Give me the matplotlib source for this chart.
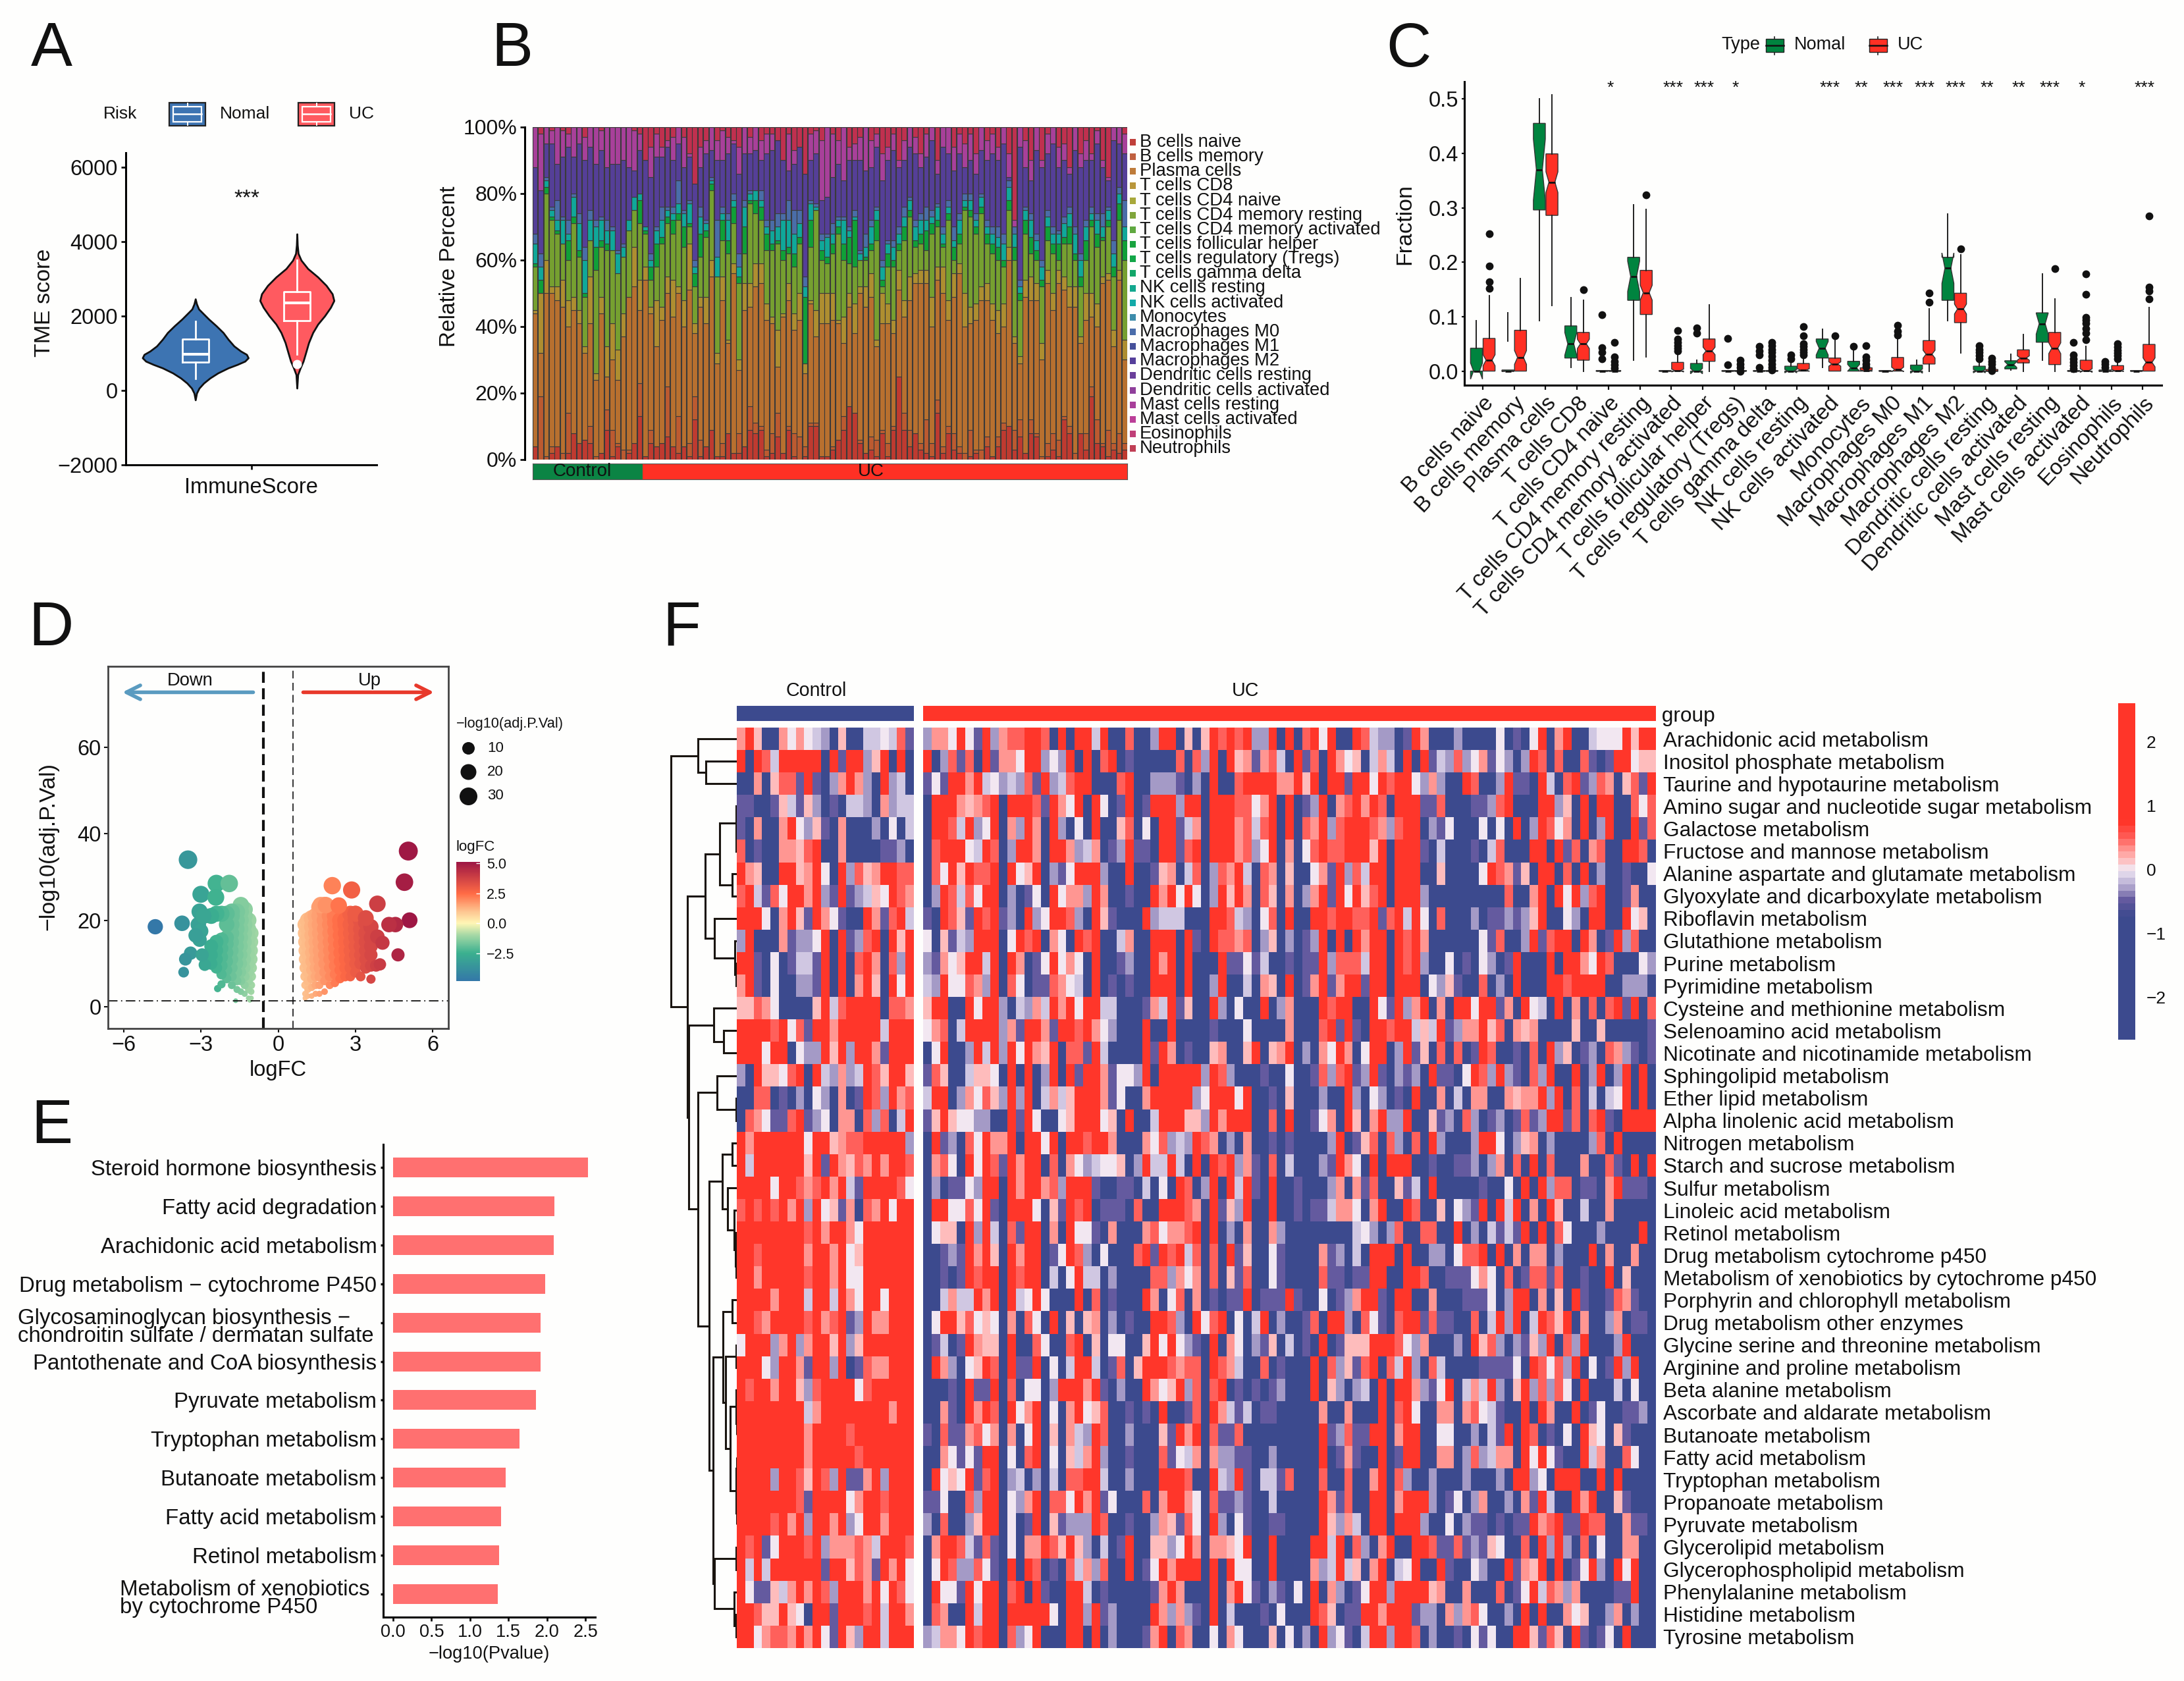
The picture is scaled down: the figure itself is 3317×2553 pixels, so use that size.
import matplotlib
matplotlib.use("Agg")
import matplotlib.pyplot as plt
import numpy as np
from matplotlib.colors import LinearSegmentedColormap, Normalize
from matplotlib.patches import Rectangle

W, H = 3317, 2553
plt.rcParams['font.family'] = ['Liberation Sans', 'DejaVu Sans']
plt.rcParams['text.color'] = '#111111'
plt.rcParams['axes.labelcolor'] = '#111111'
plt.rcParams['xtick.color'] = '#111111'
plt.rcParams['ytick.color'] = '#111111'
BG = '#FEFEFD'

# --- panel A ---
NOMAL_VIOLIN_Y = [2452, 2317, 2181, 2045, 1910, 1729, 1548, 1367, 1186, 1050, 960, 869, 778, 688, 597, 462, 326, 190, 54, -81, -262]
NOMAL_VIOLIN_W = [0, .006, .016, .04, .064, .1, .133, .157, .185, .217, .245, .253, .237, .2, .157, .108, .07, .04, .018, .006, 0]
UC_VIOLIN_Y = [4199, 3900, 3674, 3493, 3267, 3041, 2815, 2588, 2407, 2226, 1999, 1774, 1548, 1276, 1005, 778, 597, 416, 54]
UC_VIOLIN_W = [0, .002, .006, .02, .052, .1, .14, .169, .177, .161, .133, .1, .076, .056, .042, .03, .016, .004, 0]
NOMAL_BOX = dict(q1=751, med=959, q3=1367, whislo=308, whishi=1846, fliers=[])
UC_BOX = dict(q1=1864, med=2344, q3=2652, whislo=959, whishi=3493, fliers=[706])

# --- panel B ---
CELL_TYPES = ['B cells naive', 'B cells memory', 'Plasma cells', 'T cells CD8', 'T cells CD4 naive',
              'T cells CD4 memory resting', 'T cells CD4 memory activated', 'T cells follicular helper',
              'T cells regulatory (Tregs)', 'T cells gamma delta', 'NK cells resting', 'NK cells activated',
              'Monocytes', 'Macrophages M0', 'Macrophages M1', 'Macrophages M2', 'Dendritic cells resting',
              'Dendritic cells activated', 'Mast cells resting', 'Mast cells activated', 'Eosinophils', 'Neutrophils']
CELL_COLORS = ['#C0403A', '#C06040', '#BE7B3A', '#B8963A', '#A8A83A', '#7FA53A', '#5FA83F', '#18A33F', '#12A647',
               '#12A668', '#12A88E', '#12AAA8', '#3D8CAA', '#4A6DAA', '#45509A', '#553F9A', '#6A3F9A', '#8F3F9A',
               '#A83F9A', '#BB3F98', '#C03F78', '#C03F55']
N_CONTROL_B = 20
N_UC_B = 88
TOP_NAIVE = [4, 0, 0, 2, 4, 0, 2, 8, 5, 6, 5, 0, 2, 9, 1, 4, 0, 2, 5, 13,
             1, 5, 4, 5, 7, 4, 2, 4, 1, 12, 1, 4, 9, 1, 1, 8, 2, 2, 4, 9,
             8, 9, 1, 2, 7, 2, 9, 1, 0, 1, 10, 10, 1, 1, 3, 6, 9, 16, 14, 5,
             2, 3, 1, 8, 1, 9, 25, 9,
             4, 8, 3, 2, 1, 14, 2, 8, 3, 2, 0, 1, 2, 0, 4, 1, 4, 9, 10, 3, 7, 2, 8, 7, 0, 1, 3, 1, 12, 8, 0, 8, 3, 19, 5, 4, 1, 3, 2, 3, 1, 11]
TOP_BMEM = [4, 19, 1, 4, 4, 2, 14, 8, 5, 6, 10, 1, 2, 15, 9, 5, 3, 3, 5, 23,
            1, 9, 4, 5, 22, 4, 13, 4, 5, 19, 6, 1, 9, 1, 5, 8, 2, 8, 4, 16,
            11, 10, 3, 8, 14, 2, 10, 8, 7, 4, 11, 11, 1, 1, 4, 6, 13, 16, 14, 6,
            2, 7, 6, 9, 5, 10, 25, 14,
            9, 8, 5, 12, 5, 18, 4, 10, 8, 4, 2, 9, 3, 3, 7, 1, 7, 11, 10, 9, 12, 2, 12, 8, 1, 5, 8, 6, 13, 10, 2, 8, 8, 22, 12, 5, 9, 5, 8, 5, 4, 11]
TOP_PLASMA = [44, 32, 50, 50, 48, 46, 40, 45, 41, 32, 41, 24, 44, 25, 30, 24, 37, 49, 52, 45,
              54, 44, 34, 42, 50, 43, 50, 40, 51, 38, 46, 41, 55, 29, 48, 35, 56, 27, 45, 46,
              52, 53, 42, 41, 28, 43, 48, 39, 42, 26, 47, 37, 41, 41, 42, 41, 35, 46, 38, 50, 46,
              49, 34, 41, 41, 38, 51, 43, 48, 53, 53, 53, 40, 54, 50, 42, 49, 56, 40, 41, 42, 48, 48, 42, 38, 40,
              60, 35, 29, 49, 48, 48, 30, 53, 45, 53, 51, 46, 46, 35, 42, 43, 40, 53, 54, 34, 54, 30]
TOP_CD8 = [45, 50, 60, 52, 52, 54, 48, 49, 45, 34, 55, 26, 49, 34, 41, 33, 44, 49, 64, 54,
           58, 46, 48, 46, 55, 54, 52, 48, 65, 41, 49, 49, 60, 32, 55, 36, 59, 30, 53, 53,
           59, 59, 47, 43, 39, 44, 53, 44, 50, 29, 48, 45, 50, 50, 50, 42, 43, 50, 47, 52,
           52, 56, 36, 50, 47, 42, 57, 48, 55, 56, 57, 57, 49, 58, 58, 48, 56, 59, 50, 46, 47, 52, 53, 47, 45, 47,
           64, 37, 31, 54, 55, 53, 35, 57, 50, 57, 55, 52, 52, 37, 50, 50, 47, 55, 56, 39, 57, 36]
TOP_CD4 = [58, 50, 80, 72, 68, 65, 60, 71, 61, 49, 66, 57, 64, 63, 63, 56, 61, 69, 75, 71,
           68, 54, 58, 65, 71, 68, 72, 64, 70, 52, 61, 67, 81, 55, 66, 62, 71, 53, 62, 77,
           74, 72, 63, 63, 65, 60, 62, 58, 65, 26, 64, 75, 60, 59, 62, 68, 60, 59, 58, 60,
           60, 63, 66, 52, 58, 58, 63, 66, 73, 64, 65, 63, 68, 70, 64, 72, 60, 65, 75, 73, 68, 74, 65, 62, 60, 58,
           75, 60, 48, 68, 62, 60, 52, 66, 62, 60, 65, 65, 60, 52, 60, 70, 64, 66, 70, 55, 72, 60]
TOP_GREEN = [59, 54, 82, 73, 69, 65, 66, 73, 63, 50, 66, 64, 66, 65, 63, 56, 61, 69, 75, 78,
             69, 58, 65, 67, 73, 72, 74, 70, 71, 56, 68, 69, 83, 55, 72, 66, 76, 55, 70, 78,
             78, 76, 68, 65, 66, 63, 64, 62, 67, 49, 72, 75, 63, 61, 65, 70, 65, 67, 72, 58,
             61, 65, 72, 54, 62, 60, 65, 70, 75, 66, 68, 69, 71, 72, 65, 74, 64, 68, 76, 75, 70, 76, 68, 65, 64, 60,
             78, 64, 50, 72, 67, 63, 54, 70, 65, 65, 67, 70, 62, 55, 66, 72, 68, 67, 72, 58, 77, 66]
TOP_TEAL = [65, 58, 84, 75, 72, 72, 68, 79, 71, 60, 72, 70, 72, 69, 69, 62, 64, 72, 79, 80,
            70, 60, 69, 72, 75, 74, 77, 74, 77, 58, 73, 71, 84, 61, 74, 72, 78, 58, 76, 80,
            81, 78, 70, 69, 70, 72, 72, 68, 71, 52, 77, 76, 66, 67, 68, 72, 72, 69, 73, 62,
            64, 70, 75, 58, 65, 64, 68, 73, 78, 70, 72, 72, 73, 76, 68, 76, 66, 72, 78, 78, 72, 79, 70, 68, 67, 65,
            82, 68, 52, 75, 72, 66, 58, 73, 68, 68, 71, 74, 68, 60, 70, 74, 72, 70, 75, 62, 80, 70]
TOP_BLUE = [68, 62, 85, 76, 78, 73, 72, 80, 74, 64, 75, 72, 73, 72, 70, 63, 65, 72, 79, 80,
            70, 62, 70, 76, 76, 76, 84, 75, 78, 60, 76, 72, 85, 72, 76, 74, 80, 62, 78, 81,
            81, 81, 72, 72, 74, 74, 78, 75, 75, 55, 78, 77, 68, 68, 71, 73, 73, 70, 75, 63,
            68, 72, 76, 60, 66, 66, 70, 76, 79, 72, 74, 76, 75, 77, 70, 78, 70, 74, 80, 80, 74, 80, 72, 70, 70, 68,
            84, 70, 54, 76, 74, 68, 60, 75, 70, 69, 73, 76, 70, 62, 72, 76, 74, 74, 76, 66, 82, 78]
TOP_M2 = [88, 81, 95, 95, 89, 91, 94, 91, 95, 90, 94, 89, 93, 88, 89, 89, 90, 88, 87, 93,
          90, 85, 91, 91, 94, 90, 95, 88, 91, 83, 88, 92, 93, 90, 90, 92, 95, 86, 92, 92,
          93, 90, 92, 93, 96, 90, 87, 89, 94, 86, 90, 92, 78, 79, 85, 89, 84, 90, 90, 90,
          87, 88, 94, 84, 90, 93, 88, 90, 94, 92, 88, 91, 96, 86, 94, 92, 87, 92, 88, 90, 86, 93, 90, 92, 90, 95,
          85, 70, 94, 88, 84, 93, 88, 92, 95, 88, 90, 86, 93, 88, 90, 90, 95, 88, 84, 96, 95, 92]
TOP_MAST = [100, 98, 100, 99, 100, 99, 98, 100, 100, 97, 100, 100, 99, 100, 100, 100, 100, 100, 99, 98,
            88, 94, 98, 94, 96, 97, 100, 97, 92, 82, 94, 96, 100, 96, 99, 97, 96, 94, 100, 97,
            100, 96, 98, 98, 96, 90, 98, 93, 94, 85, 98, 99, 96, 100, 98, 96, 100, 94, 95, 97,
            100, 96, 98, 92, 94, 98, 90, 96, 100, 97, 92, 98, 100, 90, 100, 100, 94, 98, 95, 98, 92, 100, 96, 98, 94, 100,
            92, 72, 100, 96, 90, 100, 90, 98, 100, 94, 95, 88, 100, 92, 96, 92, 99, 90, 85, 100, 100, 98]
BAND_TOPS = [TOP_NAIVE, TOP_BMEM, TOP_PLASMA, TOP_CD8, TOP_CD4, TOP_GREEN, TOP_TEAL, TOP_BLUE, TOP_M2, TOP_MAST]
BAND_COLORS = ['#BF3A30', '#BC5A30', '#B8702F', '#AE8E30', '#76A030', '#10A038', '#10A89A', '#4A6DA8', '#553F98', '#A8409A', '#C0304F']

# --- panel C ---
NOMAL_Q1 = [0, 0, .296, .024, 0, .13, 0, 0, 0, 0, 0, .024, 0, 0, 0, .13, 0, .004, .053, 0, 0, 0]
NOMAL_MED = [.0, 0, .37, .05, 0, .174, 0, 0, 0, 0, 0, .042, .006, 0, 0, .189, 0, .012, .087, 0, 0, 0]
NOMAL_Q3 = [.042, .002, .455, .083, .001, .209, .001, .014, .001, .001, .009, .059, .018, .001, .011, .209, .009, .019, .107, .001, .002, .001]
NOMAL_LO = [0, 0, .093, .007, 0, .02, 0, 0, 0, 0, 0, .007, 0, 0, 0, .093, 0, .002, .02, 0, 0, 0]
NOMAL_HI = [.093, .002, .5, .135, .001, .306, .001, .02, .001, .001, .02, .077, .037, .001, .02, .288, .02, .031, .179, .002, .002, .001]
NOMAL_FLIERS = [[], [], [], [], [.104, .043, .034, .022], [], [], [.079, .07], [.06, .012], [.045, .037, .03, .007],
                [.03, .022], [], [.046], [], [], [], [.047, .04, .034, .028, .022], [], [], [.053, .03, .022, .016, .01, .004],
                [.018, .013, .007], []]
UC_Q1 = [0, 0, .286, .02, 0, .104, 0, .018, 0, 0, 0, 0, 0, 0, .013, .089, 0, .015, .012, 0, 0, 0]
UC_MED = [.02, .025, .347, .05, 0, .144, .001, .037, 0, 0, .002, .013, .001, .003, .031, .114, 0, .024, .042, .001, .001, .016]
UC_Q3 = [.06, .075, .399, .071, .001, .185, .016, .059, .001, .001, .014, .024, .006, .025, .056, .143, .003, .039, .071, .02, .01, .049]
UC_LO = [0, 0, .121, 0, 0, .026, 0, 0, 0, 0, 0, 0, 0, 0, 0, .033, 0, 0, 0, 0, 0, 0]
UC_HI = [.138, .17, .508, .13, .001, .297, .03, .122, .001, .001, .03, .067, .012, .06, .114, .213, .006, .067, .133, .045, .02, .117]
UC_FLIERS = [[.252, .193, .164, .152], [], [], [.15], [.053, .026, .018, .012, .006], [.324],
             [.075, .059, .053, .047, .042, .037], [], [.02, .013, .007, 0],
             [.053, .047, .04, .034, .027, .02, .013, .007, .002], [.082, .065, .05, .045, .04, .035, .03],
             [.065], [.047, .026, .02, .013, .008], [.084, .073, .066], [.143, .126], [.224],
             [.024, .018, .013, .006, .001], [], [.188], [.179, .141, .099, .094, .088, .078, .07, .057],
             [.05, .044, .038, .033, .028, .022], [.285, .154, .147, .132]]
STARS = {5: '*', 7: '***', 8: '***', 9: '*', 12: '***', 13: '**', 14: '***', 15: '***', 16: '***', 17: '**',
         18: '**', 19: '***', 20: '*', 22: '***'}

# --- panel D ---
DOWN_COLS = [(-1.05, [2, 3.5, 5, 7, 9, 11, 13, 15, 17]),
             (-1.15, [2, 4, 6, 8, 10, 12, 14, 16, 18, 20]),
             (-1.3, [3, 5, 7, 9, 11, 13, 15, 17, 19, 21, 22.5]),
             (-1.45, [3.5, 6, 8, 10, 12, 14, 16, 18, 20, 22, 23.5]),
             (-1.6, [4, 6, 8, 10, 12, 14, 16, 18, 20, 22]),
             (-1.8, [5, 7, 9, 11, 13, 15, 17, 19, 21, 22]),
             (-2.0, [6.5, 8.5, 10.5, 12.5, 14.5, 16, 19, 21.5]),
             (-2.2, [7.5, 9.5, 11.5, 13.5, 15.5, 21.5]),
             (-2.4, [9, 11, 13, 15, 21.5]),
             (-2.6, [10, 12, 14, 21])]
DOWN_EXTRA_FC = [-4.77, -3.73, -3.5, -3.0, -2.4, -1.9, -2.42, -3.05, -3.1, -3.0, -3.05, -3.2, -3.4, -3.6, -3.67, -2.85, -2.35, -2.2, -2.9, -2.95, -1.65, -1.1]
DOWN_EXTRA_P = [18.5, 19.3, 34, 26, 28.5, 28.5, 25.3, 22, 19, 17.5, 15.5, 16.5, 12.4, 11, 8, 9.7, 4.2, 5.2, 21, 12, 1.4, 1.5]
UP_COLS = [(1.05, [2, 3, 5, 7, 9, 11, 13, 15, 17, 19]),
           (1.15, [2.5, 4, 6, 8, 10, 12, 14, 16, 18, 20]),
           (1.3, [2.5, 4.5, 6.5, 8.5, 10.5, 12.5, 14.5, 16.5, 18.5, 20.5]),
           (1.45, [3, 5, 7, 9, 11, 13, 15, 17, 19, 21]),
           (1.6, [3, 5, 7, 9, 11, 13, 15, 17, 19, 21, 23]),
           (1.8, [3.5, 6, 8, 10, 12, 14, 16, 18, 20, 22, 23.5]),
           (2.0, [5, 7, 9, 11, 13, 15, 17, 19, 21]),
           (2.2, [5.5, 7.5, 9.5, 11.5, 13.5, 15.5, 17.5, 19.5, 21]),
           (2.4, [6.5, 8.5, 10.5, 12.5, 14.5, 16.5, 18.5, 20]),
           (2.6, [7, 9, 11, 13, 15, 17, 19, 20]),
           (2.8, [7, 9, 11, 13, 15, 17, 19, 21.5]),
           (3.0, [8, 10, 12, 14, 16, 18, 20, 21.5]),
           (3.2, [7, 10, 12, 14, 16, 18, 20]),
           (3.4, [9, 11, 13, 15, 17, 19.5]),
           (3.6, [9.5, 12, 14, 16, 18.5])]
UP_EXTRA_FC = [5.05, 4.9, 5.1, 4.55, 4.3, 4.65, 3.85, 3.85, 4.05, 3.6, 3.8, 3.95, 2.1, 2.85, 1.65, 1.85, 2.35, 3.0, 3.4]
UP_EXTRA_P = [36, 28.8, 20, 19, 19, 12, 23.8, 16.2, 14.8, 6.4, 9.5, 9.8, 28, 27, 23.5, 23.5, 23.4, 21.5, 20.5]

# --- panel E ---
# the two wrapped names are written next to their bars further down
PATHWAYS_E = ['Steroid hormone biosynthesis', 'Fatty acid degradation', 'Arachidonic acid metabolism',
              'Drug metabolism \u2212 cytochrome P450', '',
              'Pantothenate and CoA biosynthesis', 'Pyruvate metabolism', 'Tryptophan metabolism',
              'Butanoate metabolism', 'Fatty acid metabolism', 'Retinol metabolism', '']
WRAPPED_E = ['Glycosaminoglycan biosynthesis \u2212\nchondroitin sulfate / dermatan sulfate',
             'Metabolism of xenobiotics\nby cytochrome P450']
PVALUES_E = [2.53, 2.10, 2.09, 1.98, 1.92, 1.92, 1.86, 1.64, 1.46, 1.40, 1.375, 1.365]

# --- panel F ---
PATHWAYS_F = ['Arachidonic acid metabolism', 'Inositol phosphate metabolism', 'Taurine and hypotaurine metabolism',
              'Amino sugar and nucleotide sugar metabolism', 'Galactose metabolism', 'Fructose and mannose metabolism',
              'Alanine aspartate and glutamate metabolism', 'Glyoxylate and dicarboxylate metabolism',
              'Riboflavin metabolism', 'Glutathione metabolism', 'Purine metabolism', 'Pyrimidine metabolism',
              'Cysteine and methionine metabolism', 'Selenoamino acid metabolism',
              'Nicotinate and nicotinamide metabolism', 'Sphingolipid metabolism', 'Ether lipid metabolism',
              'Alpha linolenic acid metabolism', 'Nitrogen metabolism', 'Starch and sucrose metabolism',
              'Sulfur metabolism', 'Linoleic acid metabolism', 'Retinol metabolism',
              'Drug metabolism cytochrome p450', 'Metabolism of xenobiotics by cytochrome p450',
              'Porphyrin and chlorophyll metabolism', 'Drug metabolism other enzymes',
              'Glycine serine and threonine metabolism', 'Arginine and proline metabolism', 'Beta alanine metabolism',
              'Ascorbate and aldarate metabolism', 'Butanoate metabolism', 'Fatty acid metabolism',
              'Tryptophan metabolism', 'Propanoate metabolism', 'Pyruvate metabolism', 'Glycerolipid metabolism',
              'Glycerophospholipid metabolism', 'Phenylalanine metabolism', 'Histidine metabolism',
              'Tyrosine metabolism']
# one digit per cell, 0 = deep blue ... 4 = pale ... 8 = full red
HEAT_CONTROL = ['685006464320500334371', '808738888808188258080', '006057718102686208230', '110015315201033206233',
                '106006842510600020403', '701006657800600001120', '865008856840827568877', '783174886821812354876',
                '888406851864100861783', '280006122480812780858', '881040133180807860728', '681040022180806850848',
                '557640000583788880776', '888878471886888883888', '888488042285828861888', '208554780832623875885',
                '007701020420601872867', '076411781240660727038', '868888884885677888882', '838888885818657686887',
                '888848876786831888874', '787878682845160768488', '888888887868864888888', '887888886886845888888',
                '886888887886844888888', '888868883883864884888', '887688887867812866888', '488826826885825888888',
                '888428861882801766888', '878868852788884788888', '888888883688888888688', '888888886888878888888',
                '888888886888887888888', '888828875872811682888', '888888871888846887888', '888878682886824886888',
                '878148887826667638887', '838388888818857618684', '841153686872888684874', '887558540881888783886',
                '884677686841852883888']
HEAT_UC_LEFT = ['2664841826778870808838007002880', '8027170816648824280807801000007', '1418868342327182378800078002221',
                '0888656780888718648084018018882', '0887382480628608204080057040881', '0788843870288608862360128110881',
                '0748587780845802148882008001560', '0287374880201408466286001008684', '1087518781208248872085100082333',
                '4051328880487806408780036008880', '2164588380860148464080012008680', '3284476280740117643080101008880',
                '5880084882032638684883300016381', '4670388882618861887864200080080', '0480028382848658077183000081860',
                '1750035540808028081886144280888', '3880264752828036358886140068888', '1585442200818400458884508003888',
                '0812074866808848088788600064723', '0674084871868807064234450283383', '0201142880868867288810011030408',
                '0884474810888405187801110700888', '0455082830718806084410600067466', '0012186850868801487204000781878',
                '0010187880878803048330200007726', '0036338680834840008070100086047', '0488574540607408050560201008872',
                '0130186550800740078050440058484', '0862045870811804038830170588876', '0001081180704402888681020086458',
                '0061086870846804068457001010800', '1071167460604805063287002000518', '0064141880407804053682001000714',
                '0845481780230203077883002000888', '1140072880426807748681400070688', '2070025880401805122287001002651',
                '0688731710406687585203018005524', '0487227410808701073627008014868', '0844184880780810088301000001686',
                '0760083880888884088281200008626', '2366487880724800088080200016807']
HEAT_UC_RIGHT = ['50587878228080784800873220186000200004010480680034448588',
                 '07280856167308170864503630808132724614202870700710188455',
                 '02080078888668580881884878842620087002811083078127605718',
                 '88088877468080128067868708881170001127800088250808800747',
                 '36088867378080768278887627880214000404080287460802800817',
                 '78088867248060478778885808881030001037000880817067008870',
                 '37027683076050046182738808880050000487615088070802001004',
                 '84028586075060268184857808882000000000700680848278001600',
                 '00088732047080088788778178384070002011212580042088008450',
                 '81087767025020128080868808786000000417002817880860182700',
                 '80008114130010118277738808782004010420180008088648700042',
                 '80028003065080168168818808880425100702080008878888002220',
                 '50082040080260008788008418268060884881608430806070781807',
                 '00010004000060007818108878835381266857065600005005000001',
                 '10056005805680206486048802815070701870010708250120762101',
                 '88287200010040017278128102120811048728210728008028028080',
                 '82488848001050002008204201080060306600656682807030348080',
                 '55286888007080014608506822800512072012017128817078108888',
                 '28760206001010000280157072070820002884025602000027080000',
                 '08087826107030002186408088800100112026070807000600710808',
                 '70280838108001000260617005130800000100408082770110681110',
                 '76081528008001011366406800870050421808380608500300600000',
                 '78080206006200000000342027007700802031318080740002000080',
                 '37070815004100006120308880800220477808060660200080600600',
                 '46070517004100007110118800887001114640701771700100805000',
                 '06010118011181004012688108800600011140288060508100176100',
                 '08478040380200170882074107881711007038280387580600260110',
                 '21080640215030108015558887426000208572021528072800028000',
                 '77087630070100080725178073820730000111140874728040182800',
                 '27078010101200080520230808862148036382058272740800030400',
                 '17086313011000006006000807840066067431008086008014001120',
                 '68071170000000008127118806880044002031808701040854051000',
                 '36062211002000008016100801880066027236608484100836007400',
                 '70083281033170007007006807200200020002088240888008080000',
                 '64071121003000008617008806888201402600206183008680051000',
                 '74082041001100008526308808882004021101011867811877006110',
                 '86066548008000088380720680088711712154007082820704006600',
                 '88080844008000062383506803480081004200816580801482084800',
                 '00080684102104080620148828888560060007014837626000011800',
                 '21080300010400087501188688812206267400208080064500260200',
                 '60040640005040208241038828870200104140088517508101408000']

# tree of the row dendrogram: (height, upper branch, lower branch), a leaf is a row number
ROW_TREE = (100,
            (59, 0, (47, 1, 2)),
            (75,
             (48,
              (26.5, (1, 3, (0.6, 4, 5)), (7, 6, 7)),
              (34, 8, (3, 9, (1, 10, 11)))),
             (73.5,
              (35, 12, (20, 13, 14)),
              (59,
               (30, 15, (1, 16, 17)),
               (42,
                (22,
                 (7, 18, 19),
                 (14, 20, (4.5, 21, (2, 22, (1, 23, 24))))),
                (36,
                 (21,
                  (7, 25, 26),
                  (17,
                   (1, 27, 28),
                   (10, (1, 29, (0.5, 30, 31)), (1, (0.5, 32, 33), (0.5, 34, 35))))),
                 (34, (1, 36, 37), (4.5, 38, (1, 39, 40)))))))))

NAVY = '#3C4A8E'
RED = '#FF3529'
LEVEL_VALUES = [-.75, -.5, -.3, -.15, 0, .15, .3, .5, .75]
LEVEL_COLORS = [NAVY, '#62589E', '#A79DC8', '#CFC6E2', '#F2E8F2', '#FFBBBB', '#FF9A96', '#FF5F5A', RED]
HEAT_VMIN, HEAT_VMAX = -2.66, 2.6


def add_ax(x0, y0, x1, y1, **kw):
    return fig.add_axes([x0 / W, 1 - y1 / H, (x1 - x0) / W, (y1 - y0) / H], **kw)


def decode(row, n):
    row = row[:n].ljust(n, row[-1])
    return [LEVEL_VALUES[int(c)] for c in row]


fig = plt.figure(figsize=(W / 100, H / 100), dpi=100, facecolor=BG)


def plot_a():
    ax = add_ax(191, 232, 572, 705.6, facecolor='none')
    ax.set_xlim(.4, 1.6)
    ax.set_ylim(-2000, 6382)
    pos = [.733, 1.219]
    ax.fill_betweenx(NOMAL_VIOLIN_Y, pos[0] - np.array(NOMAL_VIOLIN_W), pos[0] + np.array(NOMAL_VIOLIN_W),
                     facecolor='#3D74B2', edgecolor='#111111', lw=2)
    ax.fill_betweenx(UC_VIOLIN_Y, pos[1] - np.array(UC_VIOLIN_W), pos[1] + np.array(UC_VIOLIN_W),
                     facecolor='#FF5A60', edgecolor='#111111', lw=2)
    white = dict(color='white', lw=2)
    ax.bxp([NOMAL_BOX, UC_BOX], positions=pos, widths=.125, showcaps=False, manage_ticks=False,
           boxprops=white, medianprops=dict(color='white', lw=3), whiskerprops=white,
           flierprops=dict(marker='o', mfc='white', mec='white', ms=9))
    ax.text(.98, 5150, '***', ha='center', va='center', fontsize=24)
    ax.set_xticks([1])
    ax.set_xticklabels(['ImmuneScore'], fontsize=24)
    ax.set_yticks([-2000, 0, 2000, 4000, 6000])
    ax.tick_params(labelsize=23.5, width=2, length=5)
    ax.tick_params(axis='x', pad=9)
    ax.set_ylabel('TME score', fontsize=24.5)
    ax.yaxis.set_label_coords(-.283, .52)
    for s in ['top', 'right']:
        ax.spines[s].set_visible(False)
    for s in ['left', 'bottom']:
        ax.spines[s].set_linewidth(2.2)


def plot_b():
    right = 1712
    ax = add_ax(797, 193, right, 698, facecolor='none')
    n = N_CONTROL_B + N_UC_B
    x = np.arange(n)
    tops = np.array([t[:n] for t in BAND_TOPS], dtype=float)
    tops = np.maximum.accumulate(tops, axis=0)
    tops = np.vstack([tops, np.full(n, 100.0)])
    bottom = np.zeros(n)
    for top, color in zip(tops, BAND_COLORS):
        ax.bar(x, top - bottom, bottom=bottom, width=.92, color=color, edgecolor='#3A3A3A', linewidth=.8)
        bottom = top
    ax.set_xlim(-1.87, n - .5)
    ax.set_ylim(0, 100)
    ax.set_xticks([])
    ax.set_yticks([0, 20, 40, 60, 80, 100])
    ax.set_yticklabels(['0%', '20%', '40%', '60%', '80%', '100%'])
    ax.tick_params(labelsize=23, width=2, length=5)
    ax.set_ylabel('Relative Percent', fontsize=24)
    ax.yaxis.set_label_coords(-.108, .58)
    for s in ['top', 'right', 'bottom']:
        ax.spines[s].set_visible(False)
    ax.spines['left'].set_linewidth(2.2)

    strip = add_ax(808.5, 703.5, right, 728)
    strip.barh(0, N_CONTROL_B, left=-.5, height=1, color='#0B8444')
    strip.barh(0, N_UC_B, left=N_CONTROL_B - .5, height=1, color='#FF3024')
    strip.set_xlim(-.5, n - .5)
    strip.set_ylim(-.5, .5)
    strip.set_xticks([])
    strip.set_yticks([])
    for s in strip.spines.values():
        s.set_linewidth(.8)
        s.set_color('#555555')
    strip.text(8.5, -.02, 'Control', ha='center', va='center', fontsize=20)
    strip.text(61, -.02, 'UC', ha='center', va='center', fontsize=20)


def plot_c():
    ax = add_ax(2224, 124, 3283, 585, facecolor='none')
    groups = [(NOMAL_Q1, NOMAL_MED, NOMAL_Q3, NOMAL_LO, NOMAL_HI, NOMAL_FLIERS, 20, -.2, '#00843F'),
              (UC_Q1, UC_MED, UC_Q3, UC_LO, UC_HI, UC_FLIERS, 88, .2, '#FF3024')]
    for q1s, meds, q3s, los, his, fls, n, off, color in groups:
        stats = []
        for q1, med, q3, lo, hi, fl in zip(q1s, meds, q3s, los, his, fls):
            half = 1.58 * (q3 - q1) / np.sqrt(n)
            stats.append(dict(q1=q1, med=med, q3=q3, whislo=lo, whishi=hi, fliers=fl, cilo=med - half, cihi=med + half))
        ax.bxp(stats, positions=np.arange(1, 23) + off, widths=.38, patch_artist=True, shownotches=True,
               showcaps=False, manage_ticks=False,
               boxprops=dict(facecolor=color, edgecolor='#333333', lw=1),
               medianprops=dict(color='#111111', lw=2), whiskerprops=dict(color='#222222', lw=1.4),
               flierprops=dict(marker='o', mfc='#111111', mec='#111111', ms=7.5))
    ax.vlines(2 - .2, .054, .108, color='#222222', lw=1.4)
    for k, s in STARS.items():
        ax.text(k + .05, .5195, s, ha='center', va='center', fontsize=19)
    ax.set_xlim(.413, 22.6)
    ax.set_ylim(-.0259, .5316)
    ax.set_xticks(range(1, 23))
    ax.set_xticklabels(CELL_TYPES, rotation=47, ha='right', rotation_mode='anchor', fontsize=24)
    ax.set_yticks([0, .1, .2, .3, .4, .5])
    ax.set_yticklabels(['0.0', '0.1', '0.2', '0.3', '0.4', '0.5'])
    ax.tick_params(axis='y', labelsize=23.5, width=1.6, length=3)
    ax.tick_params(axis='x', width=1.6, length=5)
    ax.set_ylabel('Fraction', fontsize=24.5)
    ax.yaxis.set_label_coords(-.071, .531)
    for s in ['top', 'right']:
        ax.spines[s].set_visible(False)
    for s in ['left', 'bottom']:
        ax.spines[s].set_linewidth(2.2)


def volcano_points():
    fc, p = [], []
    for cols, efc, ep in [(DOWN_COLS, DOWN_EXTRA_FC, DOWN_EXTRA_P), (UP_COLS, UP_EXTRA_FC, UP_EXTRA_P)]:
        for x, ys in cols:
            fc += [x] * len(ys)
            p += ys
        fc += efc
        p += ep
    return np.array(fc), np.array(p)


def dot_area(p):
    # diameter in pixels
    return (np.interp(p, [1.3, 10, 20, 30, 40], [7, 19, 24, 27, 30]) * .72) ** 2


def plot_d():
    ax = add_ax(164, 1012, 681, 1561.6, facecolor='none')
    cmap = LinearSegmentedColormap.from_list('fc', [(0, '#3478A8'), (.232, '#3BB08F'), (.384, '#A5D8A5'),
                                                    (.485, '#FFF6B5'), (.586, '#FDC490'), (.737, '#FF6B45'),
                                                    (1, '#9E1744')])
    norm = Normalize(-4.8, 5.1)
    fc, p = volcano_points()
    sc = ax.scatter(fc, p, s=dot_area(p), c=fc, cmap=cmap, norm=norm, linewidths=0)
    ax.axvline(-.585, color='#111111', lw=3, ls=(0, (4, 2)))
    ax.axvline(.585, color='#111111', lw=1.2, ls=(0, (7, 4)))
    ax.axhline(1.3, color='#111111', lw=1.3, ls=(0, (8, 3, 1, 3)))
    ax.annotate('', xy=(-6.05, 72.7), xytext=(-.97, 72.7),
                arrowprops=dict(arrowstyle='->', color='#5A9BC0', lw=4, mutation_scale=38, shrinkA=0, shrinkB=0))
    ax.annotate('', xy=(6.05, 72.7), xytext=(.97, 72.7),
                arrowprops=dict(arrowstyle='->', color='#E8392B', lw=4, mutation_scale=38, shrinkA=0, shrinkB=0))
    ax.text(-3.42, 75.3, 'Down', ha='center', va='center', fontsize=19.7)
    ax.text(3.55, 75.3, 'Up', ha='center', va='center', fontsize=19.7)
    ax.set_xlim(-6.606, 6.606)
    ax.set_ylim(-4.96, 78.7)
    ax.set_xticks([-6, -3, 0, 3, 6])
    ax.set_yticks([0, 20, 40, 60])
    ax.tick_params(labelsize=23.5, width=1.5, length=4)
    ax.set_xlabel('logFC', fontsize=23.5, labelpad=5)
    ax.set_ylabel('\u2212log10(adj.P.Val)', fontsize=24.5)
    ax.yaxis.set_label_coords(-.145, .503)
    for s in ax.spines.values():
        s.set_linewidth(2)
        s.set_color('#444444')

    cax = add_ax(693, 1309.5, 729, 1489.5)
    cb = fig.colorbar(sc, cax=cax)
    cb.set_ticks([-2.5, 0, 2.5, 5])
    cb.set_ticklabels(['\u22122.5', '0.0', '2.5', '5.0'])
    cb.ax.tick_params(labelsize=15.5, length=4, width=1, color='white', direction='in', pad=7)
    cb.outline.set_visible(False)


def plot_e():
    ax = add_ax(582, 1738, 904, 2456, facecolor='none')
    y = np.arange(len(PATHWAYS_E))
    ax.barh(y, PVALUES_E, height=.51, color='#FF7070')
    ax.set_xlim(-.128, 2.628)
    ax.set_ylim(11.594, -.594)
    ax.set_yticks(y)
    ax.set_yticklabels(PATHWAYS_E, fontsize=23.8)
    ax.set_xticks([0, .5, 1, 1.5, 2, 2.5])
    ax.set_xticklabels(['0.0', '0.5', '1.0', '1.5', '2.0', '2.5'], fontsize=19.5)
    ax.tick_params(axis='y', width=2.5, length=3, pad=4)
    ax.tick_params(axis='x', width=2, length=4)
    ax.set_xlabel('\u2212log10(Pvalue)', fontsize=19.6, labelpad=5)
    for s in ['top', 'right']:
        ax.spines[s].set_visible(False)
    for s in ['left', 'bottom']:
        ax.spines[s].set_linewidth(2.2)


def tree_lines(node, lines):
    # returns (height, row position) of a node and collects its bracket
    if not isinstance(node, tuple):
        return 0, node
    h, up, low = node
    h1, y1 = tree_lines(up, lines)
    h2, y2 = tree_lines(low, lines)
    lines.append(([h1, h, h, h2], [y1, y1, y2, y2]))
    return h, (y1 + y2) / 2


def plot_f():
    top, bottom = 1105, 2503
    left, mid0, mid1, right = 1119, 1388, 1402, 2515
    control = np.array([decode(r, 21) for r in HEAT_CONTROL])
    uc = np.array([decode(a, 31) + decode(b, 56) for a, b in zip(HEAT_UC_LEFT, HEAT_UC_RIGHT)])
    nodes = [((v - HEAT_VMIN) / (HEAT_VMAX - HEAT_VMIN), c) for v, c in zip(LEVEL_VALUES, LEVEL_COLORS)]
    cmap = LinearSegmentedColormap.from_list('heat', [(0, NAVY)] + nodes + [(1, RED)])

    ax1 = add_ax(left, top, mid0, bottom)
    ax1.imshow(control, cmap=cmap, vmin=HEAT_VMIN, vmax=HEAT_VMAX, aspect='auto', interpolation='nearest')
    ax2 = add_ax(mid1, top, right, bottom)
    ax2.imshow(uc, cmap=cmap, vmin=HEAT_VMIN, vmax=HEAT_VMAX, aspect='auto', interpolation='nearest')
    ax1.set_xticks([])
    ax1.set_yticks([])
    ax2.set_xticks([])
    ax2.yaxis.tick_right()
    ax2.set_yticks(range(len(PATHWAYS_F)))
    ax2.set_yticklabels(PATHWAYS_F, fontsize=22.8)
    ax2.tick_params(axis='y', length=0, pad=8)
    for a in (ax1, ax2):
        for s in a.spines.values():
            s.set_visible(False)

    s1 = add_ax(left, 1072, mid0, 1095)
    s1.set_facecolor(NAVY)
    s2 = add_ax(mid1, 1072, right, 1095)
    s2.set_facecolor(RED)
    for a in (s1, s2):
        a.set_xticks([])
        a.set_yticks([])
        for s in a.spines.values():
            s.set_visible(False)
    s2.text(1.0, .32, ' group', transform=s2.transAxes, ha='left', va='center', fontsize=22.8)

    den = add_ax(1018, top, left, bottom, facecolor='none')
    lines = []
    tree_lines(ROW_TREE, lines)
    for hs, ys in lines:
        den.plot(hs, ys, color='#1A1510', lw=2.2, solid_joinstyle='miter', solid_capstyle='butt')
    den.set_xlim(101, 0)
    den.set_ylim(40.5, -.5)
    den.axis('off')

    cax = add_ax(3217, 1068, 3243, 1579)
    levels = np.linspace(HEAT_VMAX, HEAT_VMIN, 52).reshape(-1, 1)
    cax.imshow(levels, cmap=cmap, vmin=HEAT_VMIN, vmax=HEAT_VMAX, aspect='auto', interpolation='nearest',
               extent=[0, 1, HEAT_VMIN, HEAT_VMAX])
    cax.set_xticks([])
    cax.yaxis.tick_right()
    cax.set_yticks([-2, -1, 0, 1, 2])
    cax.set_yticklabels(['\u22122', '\u22121', '0', '1', '2'], fontsize=19)
    cax.tick_params(axis='y', length=0, pad=12)
    for s in cax.spines.values():
        s.set_visible(False)


plot_a()
plot_b()
plot_c()
plot_d()
plot_e()
plot_f()

# free-standing text and legends, placed in pixels
ov = fig.add_axes([0, 0, 1, 1], facecolor='none')
ov.set_xlim(0, W)
ov.set_ylim(H, 0)
ov.axis('off')

for letter, x, y in [('A', 78, 76), ('B', 778, 76), ('C', 2139, 76), ('D', 77, 955), ('E', 79, 1711), ('F', 1035, 955)]:
    ov.text(x, y, letter, ha='center', va='center', fontsize=68)

# wrapped names panel E
ov.text(27, 2016, WRAPPED_E[0], ha='left', va='center', fontsize=23.8, linespacing=.8)
ov.text(182, 2428, WRAPPED_E[1], ha='left', va='center', fontsize=23.8, linespacing=.8)

# legend panel A
ov.text(183, 173, 'Risk', ha='center', va='center', fontsize=19)
for x0, face, label, tx in [(257, '#3D74B2', 'Nomal', 334), (453, '#FF5A60', 'UC', 530)]:
    ov.add_patch(Rectangle((x0, 155.6), 55, 35.4, facecolor=face, edgecolor='#222222', lw=1.6))
    ov.add_patch(Rectangle((x0 + 6, 162), 43, 23, facecolor='none', edgecolor='white', lw=1.6))
    ov.plot([x0 + 6, x0 + 49], [173, 173], color='white', lw=1.8)
    ov.plot([x0 + 27.5, x0 + 27.5], [157, 162], color='white', lw=1.4)
    ov.plot([x0 + 27.5, x0 + 27.5], [185, 190], color='white', lw=1.4)
    ov.text(tx, 173, label, ha='left', va='center', fontsize=19)

# legend panel B
for i, (name, color) in enumerate(zip(CELL_TYPES, CELL_COLORS)):
    y = 216 + 22.15 * i
    ov.add_patch(Rectangle((1716, y - 5), 9, 10, facecolor=color, edgecolor='none'))
    ov.text(1731, y, name, ha='left', va='center', fontsize=19.8)

# legend panel C
ov.text(2644, 68, 'Type', ha='center', va='center', fontsize=19.5)
for x0, face, label, tx in [(2682, '#00843F', 'Nomal', 2725), (2839, '#FF3024', 'UC', 2882)]:
    ov.plot([x0 + 13, x0 + 13], [56, 83], color='#222222', lw=1.2)
    ov.add_patch(Rectangle((x0, 59), 27, 20, facecolor=face, edgecolor='#222222', lw=1, zorder=3))
    ov.plot([x0, x0 + 27], [69, 69], color='#111111', lw=1.8, zorder=4)
    ov.text(tx, 68, label, ha='left', va='center', fontsize=19.5)

# legends panel D
ov.text(693, 1099, '\u2212log10(adj.P.Val)', ha='left', va='center', fontsize=15.7)
for y, val in [(1136, 10), (1172, 20), (1208.5, 30)]:
    ov.scatter([711], [y], s=dot_area(val), color='#111111', linewidths=0)
    ov.text(740, y, str(val), ha='left', va='center', fontsize=16)
ov.text(693, 1286.5, 'logFC', ha='left', va='center', fontsize=16)

# group names panel F
ov.text(1240, 1049, 'Control', ha='center', va='center', fontsize=20.6)
ov.text(1891, 1049, 'UC', ha='center', va='center', fontsize=20.6)

fig.savefig('out.png', dpi=100, facecolor=BG)
